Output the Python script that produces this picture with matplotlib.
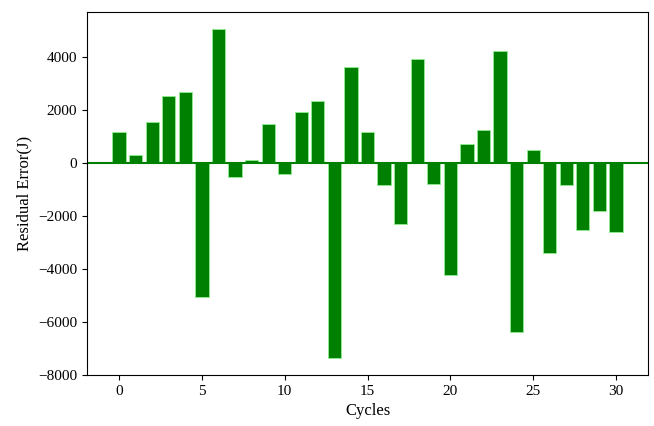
import matplotlib
matplotlib.use("Agg")
import matplotlib.pyplot as plt

# residual error per cycle
cycles = list(range(31))
residuals = [1150, 310, 1550, 2540, 2660, -5050, 5070, -530, 125, 1460,
             -410, 1910, 2350, -7370, 3620, 1150, -820, -2300, 3910, -780,
             -4220, 700, 1250, 4210, -6370, 490, -3400, -820, -2540, -1810,
             -2590]

plt.rcParams['font.family'] = ['Liberation Serif', 'DejaVu Serif']

fig = plt.figure(figsize=(6.54, 4.26), dpi=100)
ax = fig.add_axes([0.133, 0.120, 0.858, 0.852])

ax.bar(cycles, residuals, color="green", edgecolor="#90ee90", linewidth=0.6)
ax.axhline(0, color="green", linewidth=1.5)

ax.set_ylim(-8000, 5700)
ax.set_xlabel("Cycles", fontsize=12)
ax.set_ylabel("Residual Error(J)", fontsize=12)
ax.tick_params(labelsize=11)

fig.savefig("out.png", dpi=100)
